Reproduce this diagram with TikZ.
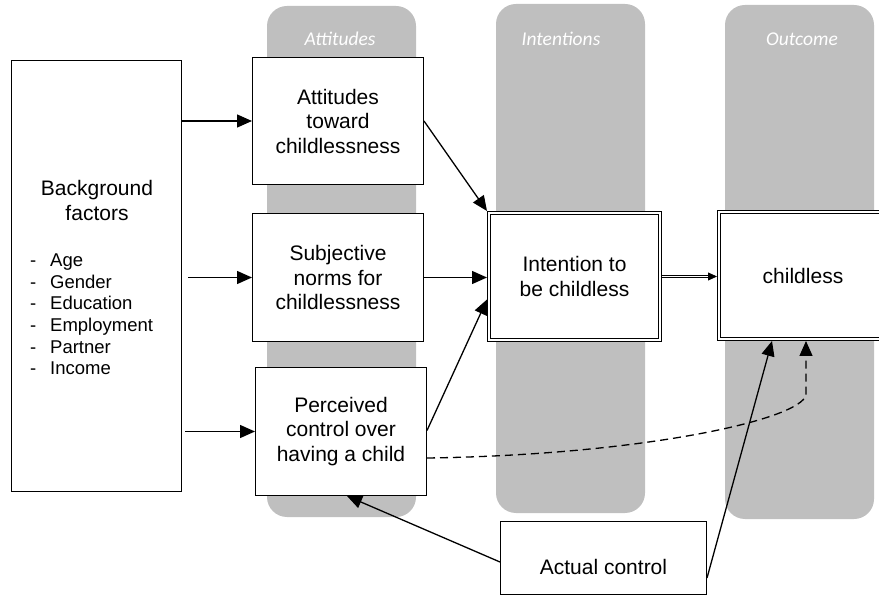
\documentclass[tikz,border=0pt]{standalone}
\usepackage{fontspec}
\setmainfont{Liberation Sans}
\newfontfamily\hdrfont{Carlito}
\usetikzlibrary{arrows.meta}
\definecolor{colgray}{RGB}{191,191,191}
\begin{document}
\begin{tikzpicture}[x=1pt,y=-1pt,
  col/.style={fill=colgray, draw=none, rounded corners=20pt},
  box/.style={draw, line width=1.3pt, fill=white, inner sep=0pt, align=center, font=\fontsize{21pt}{24.5pt}\selectfont},
  dbox/.style={box, line width=0.9pt, double=white, double distance=1.8pt, outer sep=1.8pt},
  txt/.style={inner sep=0pt, align=center, font=\fontsize{21pt}{24.5pt}\selectfont},
  arr/.style={line width=1.3pt, -{Triangle[length=15pt,width=13pt]}},
  hdr/.style={font=\hdrfont\itshape\fontsize{19.5pt}{21pt}\selectfont, text=white},
  lst/.style={font=\fontsize{18.5pt}{21.6pt}\selectfont, anchor=base west, inner sep=0pt}
]
\useasboundingbox (0,0) rectangle (879,596);
\clip (0,0) rectangle (879,596);
% columns
\path[col] (267,6) rectangle (416,517);
\path[col] (496,4) rectangle (645,513);
\path[col] (725,5) rectangle (874,519);
\node[hdr] (h1) at (340,39) {Attitudes};
\node[hdr] (h2) at (561,39) {Intentions};
\node[hdr] (h3) at (802,39) {Outcome};
% background
\node[box, minimum width=169.8pt, minimum height=430.8pt] (bg) at (96.5,276) {};
\node[txt] (bgt) at (97,200.5) {Background\\factors};
\foreach \t [count=\i] in {Age,Gender,Education,Employment,Partner,Income}{
  \node[lst] (d\i) at (30,266.6+21.6*\i-21.6) {-};
  \node[lst] (l\i) at (50,266.6+21.6*\i-21.6) {\t};
}
% attitude boxes
\node[box, minimum width=170.7pt, minimum height=126.7pt] (att) at (338,121) {Attitudes\\toward\\childlessness};
\node[box, minimum width=170.7pt, minimum height=127.7pt] (subj) at (338,277.5) {Subjective\\norms for\\childlessness};
\node[box, minimum width=170.7pt, minimum height=127.7pt] (perc) at (341,431.5) {Perceived\\control over\\having a child};
% intention / outcome
\node[dbox, minimum width=171.4pt, minimum height=127.4pt] (int) at (574.5,276.5) {Intention to\\be childless};
\node[dbox, minimum width=168.4pt, minimum height=127.4pt] (child) at (803,275.5) {childless};
% actual control
\node[box, minimum width=205.7pt, minimum height=72.7pt] (act) at (603.5,558) {};
\node[txt] (actt) at (603.5,567) {Actual control};
% arrows from background
\draw[arr] (bg.east |- att.west) -- (att.west);
\draw[arr, shorten <=6pt] (bg.east |- subj.west) -- (subj.west);
\draw[arr, shorten <=3pt] (bg.east |- perc.west) -- (perc.west);
% to intention
\draw[arr] (att.east) -- (int.north west);
\draw[arr] (subj.east) -- (subj.east -| int.west);
\draw[arr] ([yshift=1pt]perc.east) -- ([yshift=-23pt]int.west);
% intention to outcome (double)
\draw[line width=0.9pt, double=white, double distance=1.8pt, shorten >=8pt] (int.east) -- (int.east -| child.west);
\draw[line width=0.8pt, -{Triangle[length=9pt,width=8pt]}] ([xshift=-9pt]int.east -| child.west) -- (int.east -| child.west);
% dashed perceived -> outcome
\draw[line width=1.3pt, dash pattern=on 8pt off 5pt, -{Triangle[length=15pt,width=13pt]}]
  ([yshift=-26.5pt]perc.east) .. controls (640,455) and (800,420) .. (806,395) -- ([xshift=3pt]child.south);
% actual control
\draw[arr] ([yshift=-20pt]act.east) -- ([xshift=-31pt]child.south);
\draw[arr] ([yshift=-4pt]act.west) -- ([xshift=6pt]perc.south);
\end{tikzpicture}
\end{document}
